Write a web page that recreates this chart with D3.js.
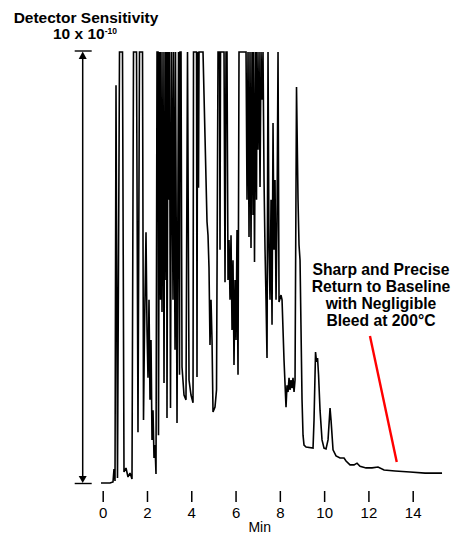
<!DOCTYPE html>
<html>
<head>
<meta charset="utf-8">
<script src="https://cdn.jsdelivr.net/npm/d3@7/dist/d3.min.js"></script>
<style>
  html, body { margin: 0; padding: 0; background: #fff; }
  svg { display: block; font-family: "Liberation Sans", Arial, Helvetica, sans-serif; }
</style>
</head>
<body>
<svg id="chart" width="453" height="535"></svg>
<script>
// Retention time (min) of each trace vertex
const timeMin = [
  -0.077, 0.330, 0.465, 0.510, 0.556, 0.601, 0.668, 0.759, 0.894, 0.962,
  1.052, 1.143, 1.233, 1.323, 1.391, 1.527, 1.594, 1.662, 1.798, 1.843,
  1.888, 1.956, 2.001, 2.046, 2.091, 2.136, 2.182, 2.227, 2.272, 2.317,
  2.362, 2.407, 2.453, 2.498, 2.520, 2.566, 2.611, 2.633, 2.678, 2.724,
  2.769, 2.814, 2.859, 2.882, 2.904, 2.949, 2.995, 3.017, 3.062, 3.108,
  3.175, 3.198, 3.266, 3.288, 3.356, 3.424, 3.469, 3.491, 3.537, 3.582,
  3.672, 3.762, 3.830, 3.898, 3.988, 4.079, 4.101, 4.237, 4.259, 4.282,
  4.327, 4.350, 4.530, 4.621, 4.711, 4.756, 4.801, 4.846, 4.892, 4.937,
  4.982, 5.072, 5.140, 5.208, 5.276, 5.298, 5.321, 5.479, 5.524, 5.569,
  5.614, 5.659, 5.705, 5.750, 5.795, 5.840, 5.885, 5.930, 5.976, 6.021,
  6.066, 6.111, 6.156, 6.473, 6.518, 6.563, 6.608, 6.653, 6.698, 6.743,
  6.789, 6.811, 6.856, 6.902, 6.947, 6.969, 7.014, 7.060, 7.105, 7.150,
  7.195, 7.240, 7.286, 7.331, 7.376, 7.421, 7.466, 7.511, 7.557, 7.602,
  7.647, 7.692, 7.737, 7.782, 7.828, 7.873, 7.918, 7.963, 8.053, 8.099,
  8.189, 8.279, 8.324, 8.370, 8.415, 8.460, 8.505, 8.550, 8.595, 8.641,
  8.686, 8.753, 8.821, 8.866, 8.912, 9.002, 9.047, 9.092, 9.183, 9.499,
  9.544, 9.612, 9.657, 9.703, 9.748, 9.815, 9.905, 9.995, 10.086, 10.176,
  10.267, 10.312, 10.402, 10.538, 10.718, 10.899, 10.989, 11.170, 11.350, 11.486,
  11.621, 11.892, 12.163, 12.434, 12.706, 13.203, 13.880, 14.558, 15.325
];
// Detector response, % of full scale (100 = off-scale / clipped)
const response = [
  0, 0, 0.23, 3.25, 0.46, 92.3, 1.16, 100, 100, 2.55,
  3.48, 1.39, 2.32, 0.93, 100, 100, 11.8, 100, 100, 14.6,
  35.5, 58.2, 35.5, 24.4, 42.5, 19.3, 33.2, 10.0, 16.9, 5.8,
  8.8, 2.1, 100, 100, 11.1, 100, 42.5, 100, 39.7, 100,
  23.2, 100, 47.1, 100, 15.1, 100, 65.7, 100, 17.4, 100,
  42.5, 100, 30.9, 100, 13.9, 100, 25.1, 100, 100, 26.9,
  20.4, 19.3, 100, 23.9, 20.4, 18.6, 100, 100, 24.6, 100,
  68.5, 100, 100, 80.3, 60.6, 57.5, 49.9, 32.0, 42.5, 33.2,
  16.5, 17.6, 21.6, 100, 100, 54.1, 100, 100, 46.6, 100,
  100, 47.1, 56.4, 42.5, 57.5, 35.5, 51.7, 27.4, 47.1, 33.2,
  58.7, 25.1, 100, 100, 65.7, 100, 57.1, 100, 54.5, 100,
  62.2, 100, 51.3, 100, 65.7, 100, 77.3, 100, 68.7, 100,
  88.9, 100, 70.3, 54.1, 42.5, 29.0, 100, 54.1, 42.5, 65.7,
  36.7, 83.5, 54.1, 70.3, 42.5, 61.0, 100, 42.0, 43.6, 42.5,
  28.5, 17.6, 22.7, 21.1, 24.4, 21.6, 23.9, 22.0, 24.4, 21.1,
  23.9, 91.9, 65.7, 55.2, 51.7, 19.3, 11.1, 8.8, 8.35, 8.1,
  14.6, 30.4, 28.1, 29.0, 25.1, 16.9, 10.0, 8.1, 7.9, 10.0,
  17.4, 14.6, 7.7, 6.3, 5.8, 5.8, 5.1, 4.2, 4.2, 4.6,
  3.9, 3.5, 3.5, 3.7, 3.0, 2.8, 2.55, 2.3, 2.3
];
const tickValues = [0, 2, 4, 6, 8, 10, 12, 14];
const titleLines = ["Detector Sensitivity"];
const sensitivityBase = "10 x 10";
const sensitivityExp = "-10";
const annotationLines = ["Sharp and Precise", "Return to Baseline", "with Negligible", "Bleed at 200\u00B0C"];
const pointerFrom = [12.07, 34.1];   // [min, % full scale]
const pointerTo = [13.28, 4.9];
const axisLabel = "Min";
const fullScale = [0, 100];

const svg = d3.select("#chart");
const x = d3.scaleLinear().domain([0, 14]).range([102.7, 412.7]);
const y = d3.scaleLinear().domain(fullScale).range([483, 52]);

const data = timeMin.map((t, i) => ({ t, v: response[i] }));

// Trace
svg.append("path")
  .datum(data)
  .attr("fill", "none")
  .attr("stroke", "#000")
  .attr("stroke-width", 1.6)
  .attr("stroke-linejoin", "miter")
  .attr("stroke-miterlimit", 2)
  .attr("d", d3.line().x(d => x(d.t)).y(d => y(d.v)));

// X axis: tick marks + labels, no domain line
const axis = d3.axisBottom(x).tickValues(tickValues).tickSize(11).tickPadding(5).tickFormat(d3.format("d"));
const gx = svg.append("g").attr("transform", "translate(0,491)").call(axis);
gx.select(".domain").remove();
gx.selectAll(".tick line").attr("stroke", "#000").attr("stroke-width", 1.5);
gx.selectAll(".tick text").attr("fill", "#000").attr("font-size", 15)
  .attr("font-family", "'Liberation Sans', Arial, sans-serif");

svg.append("text")
  .attr("x", x(7) + 2).attr("y", 532)
  .attr("text-anchor", "middle").attr("font-size", 14)
  .text(axisLabel);

// Full-scale sensitivity arrow
const ax = 82.7, yTop = y(fullScale[1]), yBot = y(fullScale[0]);
const ag = svg.append("g").attr("stroke", "#000");
ag.append("line").attr("x1", ax).attr("x2", ax).attr("y1", yTop + 4).attr("y2", yBot - 4).attr("stroke-width", 1.5);
ag.append("line").attr("x1", ax - 8).attr("x2", ax + 9).attr("y1", yTop - 1).attr("y2", yTop - 1).attr("stroke-width", 1.4);
ag.append("line").attr("x1", ax - 8).attr("x2", ax + 9).attr("y1", yBot + 0.5).attr("y2", yBot + 0.5).attr("stroke-width", 1.4);
svg.append("path").attr("fill", "#000")
  .attr("d", `M${ax},${yTop - 0.5} L${ax - 4},${yTop + 7} L${ax + 4},${yTop + 7} Z`);
svg.append("path").attr("fill", "#000")
  .attr("d", `M${ax},${yBot} L${ax - 4},${yBot - 7} L${ax + 4},${yBot - 7} Z`);

// Title
svg.append("text").attr("x", 86).attr("y", 23).attr("text-anchor", "middle")
  .attr("font-size", 15.5).attr("font-weight", "bold").text(titleLines[0]);
const sens = svg.append("text").attr("x", 85).attr("y", 39).attr("text-anchor", "middle")
  .attr("font-size", 15.5).attr("font-weight", "bold");
sens.append("tspan").text(sensitivityBase);
sens.append("tspan").attr("dy", -5).attr("font-size", 8.5).text(sensitivityExp);

// Annotation
const ann = svg.append("text").attr("text-anchor", "middle").attr("font-size", 15.7).attr("font-weight", "bold");
annotationLines.forEach((s, i) => {
  ann.append("tspan").attr("x", 381).attr("y", 275 + i * 17).text(s);
});
svg.append("line")
  .attr("x1", x(pointerFrom[0])).attr("y1", y(pointerFrom[1]))
  .attr("x2", x(pointerTo[0])).attr("y2", y(pointerTo[1]))
  .attr("stroke", "#ff0000").attr("stroke-width", 2.4);
</script>
</body>
</html>
